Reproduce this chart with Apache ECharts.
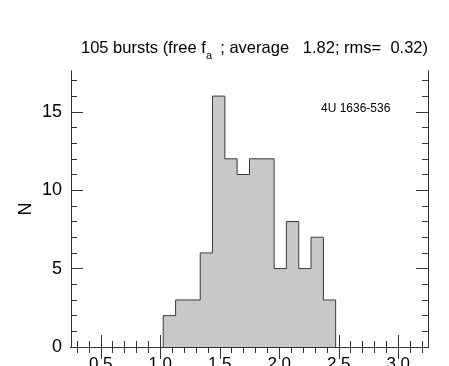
<!DOCTYPE html>
<html>
<head>
<meta charset="utf-8">
<script src="https://cdn.jsdelivr.net/npm/echarts@6/dist/echarts.min.js"></script>
<style>
  html, body { margin: 0; padding: 0; background: #fff; }
  #chart { width: 449px; height: 366px; }
</style>
</head>
<body>
<div id="chart"></div>
<script>
// histogram bins (fa)
var binEdges = [1.025, 1.129, 1.232, 1.336, 1.439, 1.543, 1.646, 1.750,
                1.853, 1.957, 2.060, 2.164, 2.267, 2.371, 2.474];
var counts = [2, 3, 3, 6, 16, 12, 11, 12, 12, 5, 8, 5, 7, 3];

var xMajor = [0.5, 1.0, 1.5, 2.0, 2.5, 3.0];
var yMajor = [0, 5, 10, 15];

var titleText = '105 bursts (free f';
var titleSub = 'a';
var titleRest = ' ; average   1.82; rms=  0.32)';
var sourceName = '4U 1636-536';

// minor tick positions
var xMinor = [];
for (var i = 3; i <= 32; i++) { if (i % 5 !== 0) xMinor.push(i / 10); }
var yMinor = [];
for (var j = 1; j <= 17; j++) { if (j % 5 !== 0) yMinor.push(j); }

// outline points for a stepped histogram
var steps = [[binEdges[0], 0]];
for (var k = 0; k < counts.length; k++) {
  steps.push([binEdges[k], counts[k]]);
}
steps.push([binEdges[binEdges.length - 1], counts[counts.length - 1]]);
steps.push([binEdges[binEdges.length - 1], 0]);

var axisColor = '#333';
var font = 'Liberation Sans, Arial, Helvetica, sans-serif';

function xAx(pos, ticks, len, labels) {
  return {
    type: 'value', position: pos, min: 0.25, max: 3.25,
    axisLine: { show: true, lineStyle: { color: axisColor, width: 1 } },
    axisTick: { show: true, inside: true, length: len, customValues: ticks,
                lineStyle: { color: axisColor, width: 1 } },
    axisLabel: labels ? { show: true, customValues: ticks, color: '#000', fontSize: 17,
                          fontFamily: font, margin: 9,
                          formatter: function (v) { return v.toFixed(1); } } : { show: false },
    splitLine: { show: false }
  };
}
function yAx(pos, ticks, len, labels) {
  var a = {
    type: 'value', position: pos, min: 0, max: 17.6,
    axisLine: { show: true, lineStyle: { color: axisColor, width: 1 } },
    axisTick: { show: true, inside: true, length: len, customValues: ticks,
                lineStyle: { color: axisColor, width: 1 } },
    axisLabel: labels ? { show: true, customValues: ticks, color: '#000', fontSize: 18,
                          fontFamily: font, margin: 9 } : { show: false },
    splitLine: { show: false }
  };
  if (labels) {
    a.name = 'N';
    a.nameLocation = 'middle';
    a.nameGap = 36;
    a.nameMoveOverlap = false;
    a.nameTextStyle = { color: '#000', fontSize: 18, fontFamily: font };
  }
  return a;
}

var option = {
  animation: false,
  backgroundColor: '#fff',
  grid: { left: 71, right: 21, top: 71, bottom: 19, outerBoundsMode: 'none' },
  xAxis: [
    xAx('bottom', xMajor, 12, true),
    xAx('bottom', xMinor, 6, false),
    xAx('top', xMajor, 12, false),
    xAx('top', xMinor, 6, false)
  ],
  yAxis: [
    yAx('left', yMajor, 12, true),
    yAx('left', yMinor, 6, false),
    yAx('right', yMajor, 12, false),
    yAx('right', yMinor, 6, false)
  ],
  graphic: [
    { type: 'text', left: 81, top: 40,
      style: { text: titleText, fontSize: 16.5, fontFamily: font, fill: '#000' } },
    { type: 'text', left: 206, top: 50,
      style: { text: titleSub, fontSize: 11, fontFamily: font, fill: '#000' } },
    { type: 'text', right: 21, top: 40,
      style: { text: titleRest, fontSize: 16.5, fontFamily: font, fill: '#000' } },
    { type: 'text', left: 321, top: 103,
      style: { text: sourceName, fontSize: 12, fontFamily: font, fill: '#000' } }
  ],
  series: [{
    type: 'line',
    xAxisIndex: 0,
    yAxisIndex: 0,
    step: 'end',
    data: steps,
    symbol: 'none',
    lineStyle: { color: '#3a3a3a', width: 1 },
    areaStyle: { color: '#c8c8c8', opacity: 1, origin: 'start' }
  }]
};

var myChart = echarts.init(document.getElementById('chart'));
myChart.setOption(option);
</script>
</body>
</html>
